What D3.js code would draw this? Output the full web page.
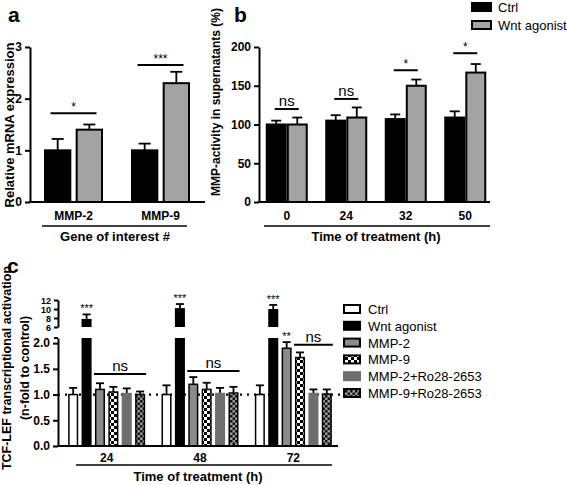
<!DOCTYPE html>
<html><head><meta charset="utf-8">
<script src="https://cdn.jsdelivr.net/npm/d3@7/dist/d3.min.js"></script>
<style>
body{margin:0;background:#fff;}
text{font-family:"Liberation Sans",Arial,sans-serif;}
</style></head>
<body><svg id="c" width="567" height="485"></svg>
<script>
// ---------- data ----------
const aCats = ["MMP-2", "MMP-9"];
const aSeries = ["Ctrl", "Wnt agonist"];
const aCtrl = [1.0, 1.0];
const aCtrlErr = [0.22, 0.13];
const aWnt = [1.4, 2.3];
const aWntErr = [0.1, 0.22];
const aTicks = [0, 1, 2, 3];
const aSig = [{cat: "MMP-2", y: 1.72, label: "*"}, {cat: "MMP-9", y: 2.65, label: "***"}];

const bCats = ["0", "24", "32", "50"];
const bCtrl = [100, 105, 107, 109];
const bCtrlErr = [5, 7, 6, 8];
const bWnt = [100, 109, 150, 167];
const bWntErr = [9, 13, 8, 11];
const bTicks = [0, 50, 100, 150, 200];
const bSig = [{cat: "0", y: 120, label: "ns"}, {cat: "24", y: 133, label: "ns"}, {cat: "32", y: 170, label: "*"}, {cat: "50", y: 192, label: "*"}];

const cCats = ["24", "48", "72"];
const cSeries = ["Ctrl", "Wnt agonist", "MMP-2", "MMP-9", "MMP-2+Ro28-2653", "MMP-9+Ro28-2653"];
const cCtrl = [1.0, 1.0, 1.0];
const cCtrlErr = [0.13, 0.18, 0.18];
const cWnt = [7.8, 10.2, 10.0];
const cWntErr = [1.0, 0.9, 0.9];
const cMMP2 = [1.1, 1.2, 1.9];
const cMMP2Err = [0.12, 0.14, 0.12];
const cMMP9 = [1.05, 1.1, 1.72];
const cMMP9Err = [0.1, 0.13, 0.1];
const cMMP2Ro = [1.02, 1.02, 1.02];
const cMMP2RoErr = [0.1, 0.11, 0.08];
const cMMP9Ro = [1.0, 1.03, 1.01];
const cMMP9RoErr = [0.06, 0.12, 0.09];
const cLowTicks = [0, 0.5, 1.0, 1.5, 2.0];
const cHighTicks = [6, 8, 10, 12];
const cNs = [{cat: "24", from: 2, to: 5, y: 1.4}, {cat: "48", from: 2, to: 5, y: 1.46}, {cat: "72", from: 3, to: 5, y: 1.97}];

// ---------- setup ----------
const svg = d3.select("#c");
const defs = svg.append("defs");
function checker(id, c1, c2, s) {
  const p = defs.append("pattern").attr("id", id).attr("patternUnits", "userSpaceOnUse")
    .attr("width", 2 * s).attr("height", 2 * s);
  p.append("rect").attr("width", 2 * s).attr("height", 2 * s).attr("fill", c1);
  p.append("rect").attr("width", s).attr("height", s).attr("fill", c2);
  p.append("rect").attr("x", s).attr("y", s).attr("width", s).attr("height", s).attr("fill", c2);
}
checker("chk", "#fff", "#000", 3);
checker("chk2", "#9a9a9a", "#111", 2.5);

const F = '"Liberation Sans",Arial,sans-serif';
function styleAxis(g) {
  g.selectAll("path.domain").attr("stroke", "#000").attr("stroke-width", 2);
  g.selectAll(".tick line").attr("stroke", "#000").attr("stroke-width", 2);
  g.selectAll(".tick text").attr("font-family", F).attr("font-size", 12).attr("font-weight", "bold").attr("fill", "#000");
}
function letter(x, y, t) {
  svg.append("text").attr("x", x).attr("y", y).attr("font-size", 21).attr("font-weight", "bold").text(t);
}
function ytitle(x, y, t, fs) {
  svg.append("text").attr("transform", `translate(${x},${y}) rotate(-90)`).attr("text-anchor", "middle")
    .attr("font-size", fs || 13).attr("font-weight", "bold").text(t);
}
function errBar(g, x, y1, y2, cap) {
  g.append("line").attr("x1", x).attr("x2", x).attr("y1", y1).attr("y2", y2).attr("stroke", "#000").attr("stroke-width", 1.8);
  g.append("line").attr("x1", x - cap).attr("x2", x + cap).attr("y1", y2).attr("y2", y2).attr("stroke", "#000").attr("stroke-width", 1.8);
}

// ---------- panel a ----------
{
  const g = svg.append("g");
  const y = d3.scaleLinear().domain([0, 3]).range([202, 47]);
  const x0 = d3.scaleBand().domain(aCats).range([30, 204]);
  const x1 = d3.scaleBand().domain(aSeries).range([-28.5, 28.5]).paddingInner(0.2);
  const fills = ["#000", "#a3a3a3"];
  const vals = [aCtrl, aWnt], errs = [aCtrlErr, aWntErr];
  aCats.forEach((c, i) => {
    aSeries.forEach((s, j) => {
      const cx = x0(c) + x0.bandwidth() / 2;
      const bx = cx + x1(s);
      errBar(g, bx + x1.bandwidth() / 2, y(vals[j][i]), y(vals[j][i] + errs[j][i]), 6);
      g.append("rect").attr("x", bx).attr("y", y(vals[j][i])).attr("width", x1.bandwidth())
        .attr("height", y(0) - y(vals[j][i])).attr("fill", fills[j]).attr("stroke", "#000").attr("stroke-width", 2);
    });
  });
  const ax = g.append("g").attr("transform", "translate(30,0)").call(d3.axisLeft(y).tickValues(aTicks).tickSize(5).tickSizeOuter(0).tickFormat(d3.format("d")));
  styleAxis(ax);
  g.append("line").attr("x1", 29).attr("x2", 205).attr("y1", y(0)).attr("y2", y(0)).attr("stroke", "#000").attr("stroke-width", 2);
  aCats.forEach(c => {
    g.append("text").attr("x", x0(c) + x0.bandwidth() / 2).attr("y", 220).attr("text-anchor", "middle")
      .attr("font-size", 12).attr("font-weight", "bold").text(c);
  });
  aSig.forEach(s => {
    const cx = x0(s.cat) + x0.bandwidth() / 2;
    g.append("line").attr("x1", cx - 23).attr("x2", cx + 23).attr("y1", y(s.y)).attr("y2", y(s.y)).attr("stroke", "#000").attr("stroke-width", 2);
    g.append("text").attr("x", cx).attr("y", y(s.y) - 2).attr("text-anchor", "middle").attr("font-size", 12).text(s.label);
  });
  g.append("line").attr("x1", 42).attr("x2", 187).attr("y1", 226).attr("y2", 226).attr("stroke", "#000").attr("stroke-width", 1.5);
  g.append("text").attr("x", 115).attr("y", 241).attr("text-anchor", "middle").attr("font-size", 13).attr("font-weight", "bold").text("Gene of interest #");
  letter(8, 22, "a");
  ytitle(14, 125, "Relative mRNA expression");
}

// ---------- panel b ----------
{
  const g = svg.append("g");
  const y = d3.scaleLinear().domain([0, 200]).range([202, 47]);
  const x0 = d3.scaleBand().domain(bCats).range([257, 495]);
  const x1 = d3.scaleBand().domain(aSeries).range([-20, 20]).paddingInner(0.1);
  const fills = ["#000", "#a3a3a3"];
  const vals = [bCtrl, bWnt], errs = [bCtrlErr, bWntErr];
  bCats.forEach((c, i) => {
    aSeries.forEach((s, j) => {
      const cx = x0(c) + x0.bandwidth() / 2;
      const bx = cx + x1(s);
      errBar(g, bx + x1.bandwidth() / 2, y(vals[j][i]), y(vals[j][i] + errs[j][i]), 5);
      g.append("rect").attr("x", bx).attr("y", y(vals[j][i])).attr("width", x1.bandwidth())
        .attr("height", y(0) - y(vals[j][i])).attr("fill", fills[j]).attr("stroke", "#000").attr("stroke-width", 2);
    });
  });
  const ax = g.append("g").attr("transform", "translate(259,0)").call(d3.axisLeft(y).tickValues(bTicks).tickSize(5).tickSizeOuter(0));
  styleAxis(ax);
  g.append("line").attr("x1", 258).attr("x2", 490).attr("y1", y(0)).attr("y2", y(0)).attr("stroke", "#000").attr("stroke-width", 2);
  bCats.forEach(c => {
    g.append("text").attr("x", x0(c) + x0.bandwidth() / 2).attr("y", 220).attr("text-anchor", "middle")
      .attr("font-size", 12).attr("font-weight", "bold").text(c);
  });
  bSig.forEach(s => {
    const cx = x0(s.cat) + x0.bandwidth() / 2;
    g.append("line").attr("x1", cx - 12).attr("x2", cx + 12).attr("y1", y(s.y)).attr("y2", y(s.y)).attr("stroke", "#000").attr("stroke-width", 2);
    g.append("text").attr("x", cx).attr("y", y(s.y) - (s.label === "ns" ? 3 : 2)).attr("text-anchor", "middle").attr("font-size", s.label === "ns" ? 15 : 12).text(s.label);
  });
  g.append("line").attr("x1", 264).attr("x2", 490).attr("y1", 226).attr("y2", 226).attr("stroke", "#000").attr("stroke-width", 1.5);
  g.append("text").attr("x", 376).attr("y", 241).attr("text-anchor", "middle").attr("font-size", 13).attr("font-weight", "bold").text("Time of treatment (h)");
  letter(234, 22, "b");
  ytitle(220, 102, "MMP-activity in supernatants (%)", 12);
  // legend
  aSeries.forEach((s, j) => {
    const ly = 7 + j * 18;
    g.append("rect").attr("x", 472).attr("y", ly - 4).attr("width", 19).attr("height", 8).attr("fill", fills[j]).attr("stroke", "#000").attr("stroke-width", 2);
    g.append("text").attr("x", 498).attr("y", ly + 5).attr("font-size", 13).text(s);
  });
}

// ---------- panel c ----------
{
  const g = svg.append("g");
  const yL = d3.scaleLinear().domain([0, 2.1]).range([446, 338]);
  const yH = d3.scaleLinear().domain([6, 12]).range([327, 300]);
  const x0 = d3.scaleBand().domain(cCats).range([60, 340]);
  const x1 = d3.scaleBand().domain(cSeries).range([-38.5, 38.5]).paddingInner(0.25);
  const vals = [cCtrl, cWnt, cMMP2, cMMP9, cMMP2Ro, cMMP9Ro];
  const errs = [cCtrlErr, cWntErr, cMMP2Err, cMMP9Err, cMMP2RoErr, cMMP9RoErr];
  const fills = ["#fff", "#000", "#8a8a8a", "url(#chk)", "#6e6e6e", "url(#chk2)"];
  const strokes = ["#000", "#000", "#000", "#000", "#6e6e6e", "#000"];
  // dotted reference line at 1.0
  g.append("line").attr("x1", 58).attr("x2", 340).attr("y1", yL(1)).attr("y2", yL(1)).attr("stroke", "#000")
    .attr("stroke-width", 2.2).attr("stroke-dasharray", "2,5");
  cCats.forEach((c, i) => {
    const cx = x0(c) + x0.bandwidth() / 2;
    cSeries.forEach((s, j) => {
      const bx = cx + x1(s), bw = x1.bandwidth(), v = vals[j][i], e = errs[j][i];
      if (j === 1) {
        errBar(g, bx + bw / 2, yH(v), yH(v + e), 4);
        g.append("rect").attr("x", bx).attr("y", yL(2.1)).attr("width", bw).attr("height", yL(0) - yL(2.1)).attr("fill", "#000");
        g.append("rect").attr("x", bx).attr("y", yH(v)).attr("width", bw).attr("height", yH(6) - yH(v)).attr("fill", "#000");
        g.append("text").attr("x", bx + bw / 2).attr("y", yH(v + e) - 2).attr("text-anchor", "middle").attr("font-size", 11).attr("fill", "#000").text("***");
      } else {
        errBar(g, bx + bw / 2, yL(v), yL(v + e), 4);
        g.append("rect").attr("x", bx + 0.75).attr("y", yL(v)).attr("width", bw - 1.5).attr("height", yL(0) - yL(v))
          .attr("fill", fills[j]).attr("stroke", strokes[j]).attr("stroke-width", 1.5);
      }
      if (j === 2 && c === "72") {
        g.append("text").attr("x", bx + bw / 2).attr("y", yL(v + e) - 2).attr("text-anchor", "middle").attr("font-size", 11).text("**");
      }
    });
  });
  const axL = g.append("g").attr("transform", "translate(58,0)").call(d3.axisLeft(yL).tickValues(cLowTicks).tickSize(5).tickSizeOuter(0).tickFormat(d3.format(".1f")));
  styleAxis(axL);
  g.append("line").attr("x1", 54).attr("x2", 58).attr("y1", yL(2.1)).attr("y2", yL(2.1)).attr("stroke", "#000").attr("stroke-width", 2);
  const axH = g.append("g").attr("transform", "translate(58,0)").call(d3.axisLeft(yH).tickValues(cHighTicks).tickSize(4).tickSizeOuter(0).tickFormat(d3.format("d")));
  styleAxis(axH);
  axH.selectAll(".tick text").attr("font-size", 9).attr("dy", "0.36em");
  g.append("line").attr("x1", 57).attr("x2", 338).attr("y1", yL(0)).attr("y2", yL(0)).attr("stroke", "#000").attr("stroke-width", 2);
  cCats.forEach(c => {
    g.append("text").attr("x", x0(c) + x0.bandwidth() / 2).attr("y", 462).attr("text-anchor", "middle")
      .attr("font-size", 12).attr("font-weight", "bold").text(c);
  });
  cNs.forEach(s => {
    const cx = x0(s.cat) + x0.bandwidth() / 2;
    const xa = cx + x1(cSeries[s.from]) - 1, xb = cx + x1(cSeries[s.to]) + x1.bandwidth() + 1;
    g.append("line").attr("x1", xa).attr("x2", xb).attr("y1", yL(s.y)).attr("y2", yL(s.y)).attr("stroke", "#000").attr("stroke-width", 2);
    g.append("text").attr("x", (xa + xb) / 2).attr("y", yL(s.y) - 3).attr("text-anchor", "middle").attr("font-size", 15).text("ns");
  });
  g.append("line").attr("x1", 76).attr("x2", 332).attr("y1", 465).attr("y2", 465).attr("stroke", "#000").attr("stroke-width", 1.5);
  g.append("text").attr("x", 198).attr("y", 481).attr("text-anchor", "middle").attr("font-size", 13).attr("font-weight", "bold").text("Time of treatment (h)");
  letter(7, 273, "c");
  ytitle(11, 368, "TCF-LEF transcriptional activation", 12.5);
  ytitle(29, 368, "(n-fold to control)", 12.5);
  // legend
  cSeries.forEach((s, j) => {
    const ly = 309 + j * 16.8;
    g.append("rect").attr("x", 344).attr("y", ly - 4).attr("width", 16).attr("height", 8)
      .attr("fill", fills[j]).attr("stroke", strokes[j]).attr("stroke-width", 2);
    g.append("text").attr("x", 368).attr("y", ly + 5).attr("font-size", 13).text(s);
  });
}
</script></body></html>
